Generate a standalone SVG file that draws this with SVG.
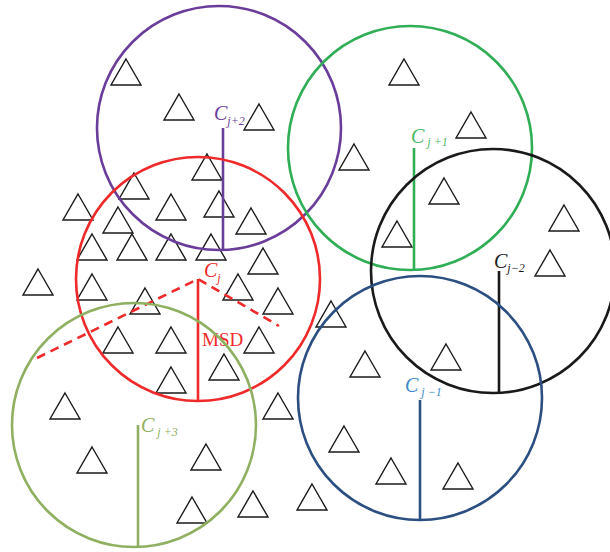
<svg xmlns="http://www.w3.org/2000/svg" width="610" height="552" viewBox="0 0 610 552">
<defs>
<style>
.c{fill:none;stroke-width:2.6}
.r{fill:none;stroke-width:2.6}
.t{fill:none;stroke:#1a1a1a;stroke-width:1.4;stroke-linejoin:miter}
.lbl{font-family:"Liberation Serif","DejaVu Serif",serif;font-style:italic;font-size:20px}
.sub{font-size:12px}
</style>
<path id="tri" d="M0,0 L15,26 L-15,26 Z"/>
</defs>
<g id="points" class="t">
<use href="#tri" x="126" y="59"/><use href="#tri" x="179" y="94"/><use href="#tri" x="259" y="104"/>
<use href="#tri" x="404" y="59"/><use href="#tri" x="471" y="112"/><use href="#tri" x="354" y="144"/>
<use href="#tri" x="207" y="154"/><use href="#tri" x="444" y="178"/><use href="#tri" x="134" y="173"/>
<use href="#tri" x="78" y="194"/><use href="#tri" x="171" y="194"/><use href="#tri" x="219" y="191"/>
<use href="#tri" x="118" y="207"/><use href="#tri" x="251" y="208"/><use href="#tri" x="397" y="221"/>
<use href="#tri" x="564" y="205"/><use href="#tri" x="92" y="234"/><use href="#tri" x="132" y="234"/>
<use href="#tri" x="171" y="234"/><use href="#tri" x="211" y="234"/><use href="#tri" x="263" y="248"/>
<use href="#tri" x="550" y="250"/><use href="#tri" x="38" y="269"/><use href="#tri" x="92" y="274"/>
<use href="#tri" x="238" y="274"/><use href="#tri" x="278" y="288"/><use href="#tri" x="145" y="288"/>
<use href="#tri" x="331" y="301"/><use href="#tri" x="118" y="327"/><use href="#tri" x="171" y="327"/>
<use href="#tri" x="259" y="327"/><use href="#tri" x="224" y="354"/><use href="#tri" x="365" y="351"/>
<use href="#tri" x="446" y="344"/><use href="#tri" x="171" y="367"/><use href="#tri" x="65" y="393"/>
<use href="#tri" x="278" y="393"/><use href="#tri" x="344" y="426"/><use href="#tri" x="92" y="447"/>
<use href="#tri" x="206" y="444"/><use href="#tri" x="391" y="458"/><use href="#tri" x="458" y="463"/>
<use href="#tri" x="192" y="497"/><use href="#tri" x="253" y="491"/><use href="#tri" x="312" y="484"/>
</g>
<g id="cj2" stroke="#6a3d9a">
<circle class="c" cx="219" cy="128" r="122"/>
<line class="r" x1="223" y1="128" x2="223" y2="250"/>
<text class="lbl" x="214" y="120" fill="#6a3d9a" stroke="none">C<tspan class="sub" dy="5">j+2</tspan></text>
</g>
<g id="cj1" stroke="#2fae55">
<circle class="c" cx="410" cy="148" r="122"/>
<line class="r" x1="414" y1="148" x2="414" y2="270"/>
<text class="lbl" x="411" y="143" fill="#4cbb6a" stroke="none">C<tspan class="sub" dy="3"> j +1</tspan></text>
</g>
<g id="cjm2" stroke="#1a1a1a">
<circle class="c" cx="493" cy="271" r="122"/>
<line class="r" x1="499" y1="271" x2="499" y2="393"/>
<text class="lbl" x="494" y="268" fill="#1a1a1a" stroke="none">C<tspan class="sub" dy="4">j−2</tspan></text>
</g>
<g id="cj" stroke="#ee2a2a">
<circle class="c" cx="198" cy="279" r="122"/>
<line class="r" x1="198" y1="279" x2="198" y2="401"/>
<path d="M37,358 L198,279 L279,326" fill="none" stroke-width="2.6" stroke-dasharray="9,6"/>
<text class="lbl" x="204" y="277" fill="#ee2a2a" stroke="none">C<tspan class="sub" dy="5">j</tspan></text>
<text x="202" y="346" fill="#ee2a2a" stroke="none" font-family="Liberation Serif, DejaVu Serif, serif" font-size="19">MSD</text>
</g>
<g id="cj3" stroke="#8fb060">
<circle class="c" cx="134" cy="425" r="122"/>
<line class="r" x1="138" y1="425" x2="138" y2="547"/>
<text class="lbl" x="141" y="432" fill="#8fb060" stroke="none">C<tspan class="sub" dy="4"> j +3</tspan></text>
</g>
<g id="cjm1" stroke="#2a4f80">
<circle class="c" cx="420" cy="398" r="122"/>
<line class="r" x1="420" y1="400" x2="420" y2="520"/>
<text class="lbl" x="405" y="392" fill="#3a8ac8" stroke="none">C<tspan class="sub" dy="4"> j −1</tspan></text>
</g>
</svg>
